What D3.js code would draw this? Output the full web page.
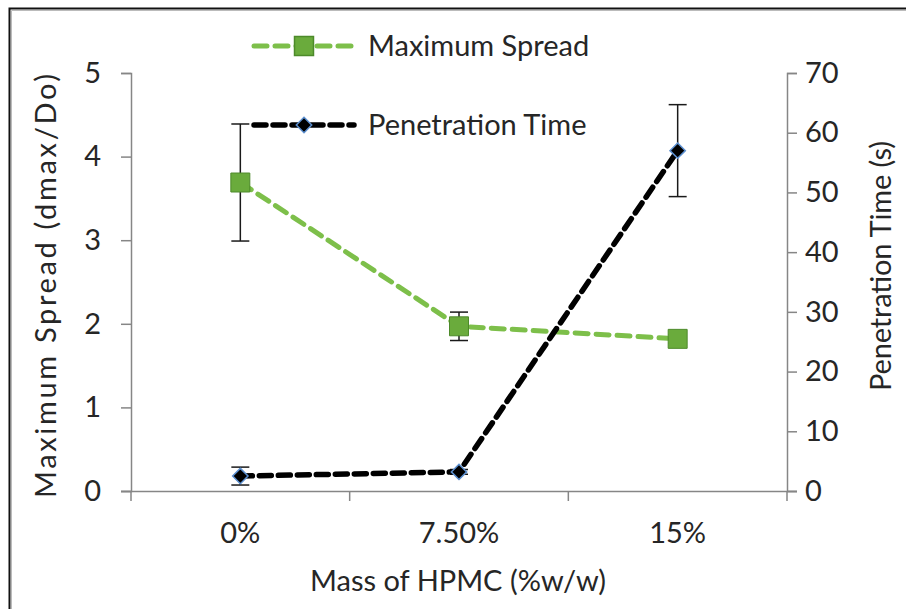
<!DOCTYPE html>
<html>
<head>
<meta charset="utf-8">
<script src="https://cdnjs.cloudflare.com/ajax/libs/d3/7.8.5/d3.min.js"></script>
<style>
  body { margin: 0; background: #fff; }
  svg text { font-family: Lato, "Open Sans", sans-serif; fill: #262626; }
</style>
</head>
<body>
<div id="chart"></div>
<script>
// chart data
var categories = ["0%", "7.50%", "15%"];
var spreadValues = [3.69, 1.97, 1.82];
var spreadErrors = [0.7, 0.17, 0.05];
var penetrationValues = [2.5, 3.2, 57];
var penetrationErrors = [1.5, 0.4, 7.7];
var leftTicks = [0, 1, 2, 3, 4, 5];
var rightTicks = [0, 10, 20, 30, 40, 50, 60, 70];

var fullWidth = 906;
var fullHeight = 609;
var margin = { top: 73, right: 119, bottom: 118, left: 131 };
var width = fullWidth - margin.left - margin.right;
var height = fullHeight - margin.top - margin.bottom;

var axisColor = "#868686";
var greenLine = "#7dbf4a";
var greenMarker = "#6aab3c";
var fontSize = 29;

var svg = d3.select("#chart")
  .append("svg")
  .attr("width", fullWidth)
  .attr("height", fullHeight);

// outer frame (top and left edges)
svg.append("path")
  .attr("d", "M9.5," + fullHeight + "V8.5H" + fullWidth)
  .attr("fill", "none")
  .attr("stroke", "#111")
  .attr("stroke-width", 2);
svg.append("path")
  .attr("d", "M11.5," + fullHeight + "V10.5H" + fullWidth)
  .attr("fill", "none")
  .attr("stroke", "#bbb")
  .attr("stroke-width", 1);

var g = svg.append("g")
  .attr("transform", "translate(" + margin.left + "," + margin.top + ")");

var x = d3.scaleBand().domain(categories).range([0, width]).padding(0);
var yLeft = d3.scaleLinear().domain([0, 5]).range([height, 0]);
var yRight = d3.scaleLinear().domain([0, 70]).range([height, 0]);

function cx(d, i) { return x(categories[i]) + x.bandwidth() / 2; }

// left axis
var leftAxis = g.append("g")
  .call(d3.axisLeft(yLeft).tickValues(leftTicks).tickFormat(d3.format("d")).tickSize(10).tickPadding(20));
// right axis
var rightAxis = g.append("g")
  .attr("transform", "translate(" + width + ",0)")
  .call(d3.axisRight(yRight).tickValues(rightTicks).tickFormat(d3.format("d")).tickSize(10).tickPadding(8));
// bottom axis (labels only, ticks at band edges)
var bottomAxis = g.append("g")
  .attr("transform", "translate(0," + height + ")")
  .call(d3.axisBottom(x).tickSize(0).tickPadding(31));

[leftAxis, rightAxis, bottomAxis].forEach(function (a) {
  a.select(".domain").attr("stroke", axisColor).attr("stroke-width", 1.5);
  a.selectAll(".tick line").attr("stroke", axisColor).attr("stroke-width", 1.5);
  a.selectAll("text").style("font-size", fontSize + "px").attr("fill", "#262626");
});
bottomAxis.select(".domain").attr("d", "M-10,0.5H" + (width + 10));

var edges = categories.map(function (c) { return x(c); }).concat([width]);
bottomAxis.selectAll(".edge")
  .data(edges)
  .enter()
  .append("line")
    .attr("x1", function (d) { return d; })
    .attr("x2", function (d) { return d; })
    .attr("y1", 0)
    .attr("y2", 10)
    .attr("stroke", axisColor)
    .attr("stroke-width", 1.5);

// axis titles
svg.append("text")
  .attr("transform", "translate(56," + (margin.top + height / 2 + 4) + ") rotate(-90)")
  .attr("text-anchor", "middle")
  .attr("textLength", 424)
  .style("font-size", fontSize + "px")
  .text("Maximum Spread (dmax/Do)");
svg.append("text")
  .attr("transform", "translate(891," + (margin.top + height / 2 - 16) + ") rotate(-90)")
  .attr("text-anchor", "middle")
  .attr("textLength", 250)
  .style("font-size", fontSize + "px")
  .text("Penetration Time (s)");
svg.append("text")
  .attr("x", margin.left + width / 2 - 1)
  .attr("y", 591)
  .attr("text-anchor", "middle")
  .style("font-size", fontSize + "px")
  .text("Mass of HPMC (%w/w)");

// error bars
function errorBars(values, errors, scale) {
  var eb = g.append("g").selectAll("g")
    .data(values)
    .enter()
    .append("g")
      .attr("stroke", "#1a1a1a")
      .attr("stroke-width", 1.5);
  eb.append("line")
    .attr("x1", cx).attr("x2", cx)
    .attr("y1", function (d, i) { return scale(d + errors[i]); })
    .attr("y2", function (d, i) { return scale(d - errors[i]); });
  [1, -1].forEach(function (s) {
    eb.append("line")
      .attr("x1", function (d, i) { return cx(d, i) - 9; })
      .attr("x2", function (d, i) { return cx(d, i) + 9; })
      .attr("y1", function (d, i) { return scale(d + s * errors[i]); })
      .attr("y2", function (d, i) { return scale(d + s * errors[i]); });
  });
}
errorBars(spreadValues, spreadErrors, yLeft);
errorBars(penetrationValues, penetrationErrors, yRight);

// series lines
var spreadLine = d3.line().x(cx).y(function (d) { return yLeft(d); });
var penLine = d3.line().x(cx).y(function (d) { return yRight(d); });

g.append("path")
  .datum(spreadValues)
  .attr("d", spreadLine)
  .attr("fill", "none")
  .attr("stroke", greenLine)
  .attr("stroke-width", 5)
  .attr("stroke-dasharray", "13,8")
  .attr("stroke-linecap", "round");

g.append("path")
  .datum(penetrationValues)
  .attr("d", penLine)
  .attr("fill", "none")
  .attr("stroke", "#000")
  .attr("stroke-width", 5.5)
  .attr("stroke-dasharray", "12,7")
  .attr("stroke-linecap", "round");

// markers
var square = d3.symbol().type(d3.symbolSquare).size(360);
var diamond = d3.symbol().type(d3.symbolDiamond2).size(150);

g.append("g").selectAll("path")
  .data(spreadValues)
  .enter()
  .append("path")
    .attr("d", square)
    .attr("transform", function (d, i) { return "translate(" + cx(d, i) + "," + yLeft(d) + ")"; })
    .attr("fill", greenMarker)
    .attr("stroke", "#4d8a2a")
    .attr("stroke-width", 1);

g.append("g").selectAll("path")
  .data(penetrationValues)
  .enter()
  .append("path")
    .attr("d", diamond)
    .attr("transform", function (d, i) { return "translate(" + cx(d, i) + "," + yRight(d) + ")"; })
    .attr("fill", "#000")
    .attr("stroke", "#5b8fd0")
    .attr("stroke-width", 1.5);

// legend
var legendItems = [
  { label: "Maximum Spread", y: 46, color: greenLine, width: 5, dash: "13,8", symbol: square, fill: greenMarker, stroke: "#4d8a2a" },
  { label: "Penetration Time", y: 125, color: "#000", width: 5.5, dash: "12,7", symbol: diamond, fill: "#000", stroke: "#5b8fd0" }
];
var legend = svg.selectAll(".legend")
  .data(legendItems)
  .enter()
  .append("g")
    .classed("legend", true)
    .attr("transform", function (d) { return "translate(252," + d.y + ")"; });
legend.append("line")
  .attr("x1", 2).attr("x2", 102)
  .attr("stroke", function (d) { return d.color; })
  .attr("stroke-width", function (d) { return d.width; })
  .attr("stroke-dasharray", function (d) { return d.dash; })
  .attr("stroke-linecap", "round");
legend.append("path")
  .attr("d", function (d) { return d.symbol(); })
  .attr("transform", "translate(52,0)")
  .attr("fill", function (d) { return d.fill; })
  .attr("stroke", function (d) { return d.stroke; })
  .attr("stroke-width", 1.5);
legend.append("text")
  .attr("x", 116)
  .attr("dy", "0.35em")
  .style("font-size", fontSize + "px")
  .text(function (d) { return d.label; });
</script>
</body>
</html>
